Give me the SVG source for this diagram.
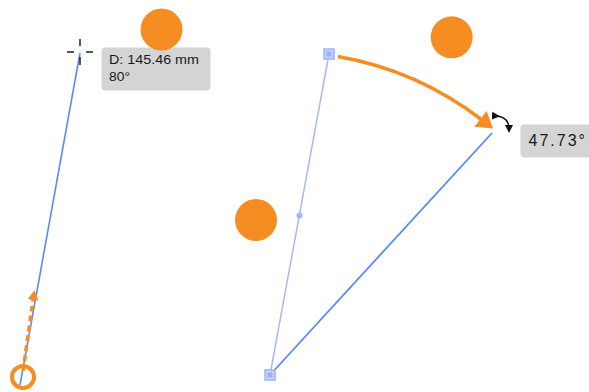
<svg xmlns="http://www.w3.org/2000/svg" width="589" height="392" viewBox="0 0 589 392">
<style>
.badge{fill:#F68D22}
.tip{fill:#D4D4D4}
.txt{font-family:"Liberation Sans",Arial,sans-serif;font-size:13px;fill:#1a1a1a}
.txt2{font-family:"Liberation Sans",Arial,sans-serif;font-size:16px;fill:#1a1a1a}
.handle{fill:#C9D3FB;stroke:#9DB1F7;stroke-width:1.5}
</style>
<defs>
<marker id="oarrow" markerUnits="userSpaceOnUse" markerWidth="18" markerHeight="20" refX="2" refY="10" orient="auto" viewBox="0 0 18 20">
<path d="M0,0 L16,10 L0,20 Z" fill="#F68D22"/>
</marker>
<marker id="darrow" markerUnits="userSpaceOnUse" markerWidth="12" markerHeight="12" refX="3" refY="6" orient="auto" viewBox="0 0 12 12">
<path d="M0,0.5 L10,6 L0,11.5 Z" fill="#F68D22"/>
</marker>
<marker id="karrow" markerUnits="userSpaceOnUse" markerWidth="9" markerHeight="9" refX="4" refY="4.5" orient="auto" viewBox="0 0 9 9">
<path d="M0,0.5 L8,4.5 L0,8.5 Z" fill="#111"/>
</marker>
</defs>

<g id="connectors">
<line x1="80" y1="53" x2="20" y2="385" stroke="#5A8AF6" stroke-width="1.6"/>
<line x1="23" y1="371" x2="33.5" y2="297" stroke="#F68D22" stroke-width="3.5" stroke-dasharray="6 4" marker-end="url(#darrow)"/>
<line x1="329" y1="54" x2="270" y2="375" stroke="#A7B8F8" stroke-width="1.5"/>
<line x1="270" y1="375" x2="492" y2="133" stroke="#5A8AF6" stroke-width="1.8"/>
<path d="M338,56.5 A329,329 0 0 1 482,120" fill="none" stroke="#F68D22" stroke-width="3.5" marker-end="url(#oarrow)"/>
<path d="M496,116 Q509,117 509,129" fill="none" stroke="#111" stroke-width="1.5" marker-start="url(#karrow)" marker-end="url(#karrow)"/>
</g>

<g id="crosshair" stroke="#111" stroke-width="1.4">
<line x1="67" y1="52" x2="74" y2="52"/>
<line x1="86" y1="52" x2="93" y2="52"/>
<line x1="80" y1="39" x2="80" y2="46"/>
<line x1="80" y1="57" x2="80" y2="65"/>
</g>

<g id="tooltip1">
<rect class="tip" x="101.5" y="47.5" width="109" height="43" rx="4"/>
<text class="txt" x="109" y="64" textLength="90" lengthAdjust="spacingAndGlyphs">D: 145.46 mm</text>
<text class="txt" x="109" y="80.5" textLength="21" lengthAdjust="spacingAndGlyphs">80°</text>
</g>

<g id="origin-ring">
<circle cx="23" cy="377" r="11" fill="none" stroke="#F68D22" stroke-width="4"/>
</g>

<g id="handle-top"><rect class="handle" x="324" y="49" width="10" height="10"/><rect x="326.5" y="51.5" width="5" height="5" fill="#9DB1F7"/></g>
<g id="handle-mid"><circle cx="299.5" cy="215.5" r="3" fill="#A7B8F8"/></g>
<g id="handle-bottom"><rect class="handle" x="265" y="370" width="10" height="10"/><rect x="267.5" y="372.5" width="5" height="5" fill="#9DB1F7"/></g>

<g id="tooltip2">
<rect class="tip" x="520.5" y="124.5" width="80" height="33" rx="4"/>
<text class="txt2" x="528.5" y="145.5" textLength="56.5" lengthAdjust="spacing">47.73°</text>
</g>

<g id="badge1"><circle class="badge" cx="161.5" cy="29.5" r="21"/></g>
<g id="badge2"><circle class="badge" cx="451.7" cy="37.3" r="21"/></g>
<g id="badge3"><circle class="badge" cx="256" cy="220" r="21"/></g>
</svg>
